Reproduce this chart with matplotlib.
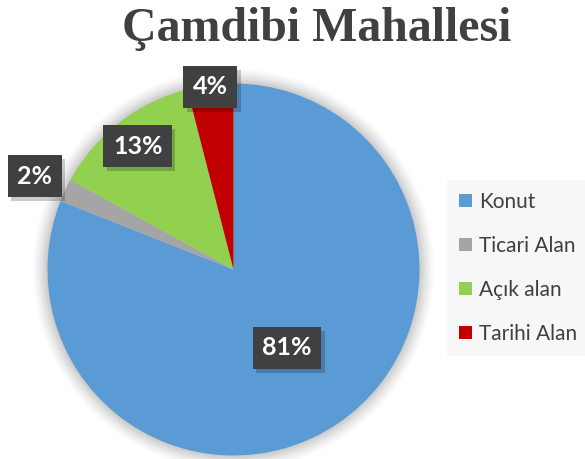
import numpy as np
import matplotlib.pyplot as plt
from matplotlib.patches import Circle
import matplotlib.patheffects as pe

# dati
categorie = ['Konut', 'Ticari Alan', 'Açık alan', 'Tarihi Alan']
valori = [81, 2, 13, 4]
colori = ['#5B9BD5', '#A5A5A5', '#92D050', '#C00000']
titolo = 'Çamdibi Mahallesi'

# distanza delle etichette dal centro (frazione del raggio)
dist_etichette = [0.51, 1.18, 0.84, 0.99]

fig = plt.figure(figsize=(5.85, 4.59), dpi=100)
fig.patch.set_facecolor('white')
ax = fig.add_axes([0.0812, 0.0076, 0.6359, 0.8105])

# ombra morbida dietro la torta
for i, r in enumerate(np.linspace(1.08, 1.005, 10)):
    ax.add_patch(Circle((0, 0), r, facecolor='#000000', alpha=0.012 + 0.002 * i,
                        edgecolor='none', clip_on=False, zorder=0))

wedges, _ = ax.pie(valori, colors=colori, startangle=90, counterclock=False,
                   radius=1, wedgeprops=dict(edgecolor='none', linewidth=0, zorder=1))
for w in wedges:
    w.set_clip_on(False)
ax.set_xlim(-1, 1)
ax.set_ylim(-1, 1)
ax.axis('off')

for w, v, d in zip(wedges, valori, dist_etichette):
    ang = np.deg2rad((w.theta1 + w.theta2) / 2)
    x, y = d * np.cos(ang), d * np.sin(ang)
    t = ax.text(x, y, f'{v}%', fontsize=18, fontweight='bold', family='Lato',
                color='white', ha='center', va='center', zorder=4,
                bbox=dict(boxstyle='square,pad=0.38', facecolor='#404040',
                          edgecolor='none'), clip_on=False)
    t.get_bbox_patch().set_path_effects(
        [pe.SimplePatchShadow(offset=(2.5, -3), shadow_rgbFace='black', alpha=0.2),
         pe.Normal()])

fig.text(0.542, (459 - 41) / 459, titolo, fontsize=34.5, fontweight='bold',
         family='Liberation Serif', color='#404040', ha='center', va='baseline')

leg = fig.legend(wedges, categorie, loc='center left',
                 bbox_to_anchor=(447 / 585, 1 - 268 / 459),
                 frameon=True, facecolor='#f7f7f7', edgecolor='none',
                 fancybox=False, prop=dict(family='Lato', size=15),
                 labelcolor='#404040', handlelength=0.62, handleheight=0.62,
                 handletextpad=0.3, labelspacing=1.15, borderpad=0.6,
                 borderaxespad=0)
leg.get_frame().set_alpha(1)

fig.savefig('out.png', dpi=100, facecolor='white')
